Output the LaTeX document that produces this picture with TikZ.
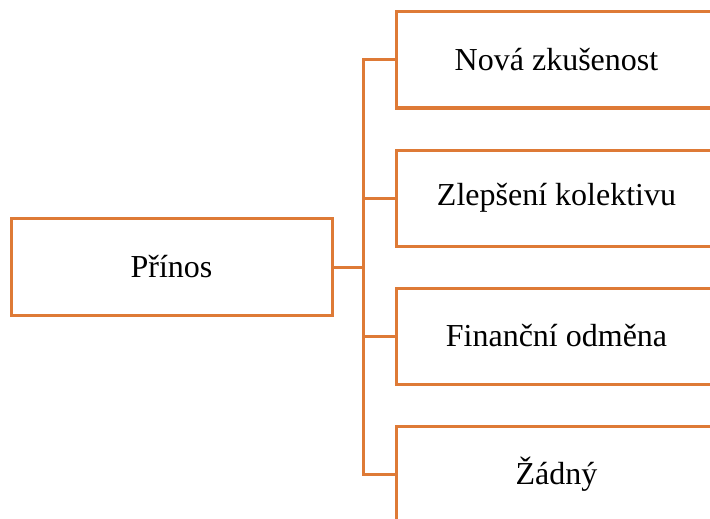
\documentclass[tikz,border=0pt]{standalone}
\usepackage{fontspec}
\setmainfont{Liberation Serif}
\definecolor{boxorange}{RGB}{222,122,54}
\begin{document}
\begin{tikzpicture}[x=1pt, y=-1pt,
  item/.style={rectangle, draw, color=boxorange, text=black, line width=3pt,
    minimum width=321pt, minimum height=96pt, inner sep=0pt,
    font=\fontsize{32}{38}\selectfont},
  link/.style={draw, color=boxorange, line width=3pt}]
\useasboundingbox (0,0) rectangle (710,519);
\clip (0,0) rectangle (710,519);

\node[item, minimum height=97pt] (prinos) at (171.5, 267) {Přínos};
\foreach \t [count=\i] in {Nová zkušenost, Zlepšení kolektivu, Finanční odměna, Žádný} {
  \node[item] (box \i) at (556.5, {60+138*(\i-1)}) {\t};
}

\coordinate (trunk) at (363, 267);
\draw[link] (prinos.east) -- (trunk);
\foreach \i in {1, ..., 4}
  \draw[link] (trunk) |- (box \i.west);
\end{tikzpicture}
\end{document}
